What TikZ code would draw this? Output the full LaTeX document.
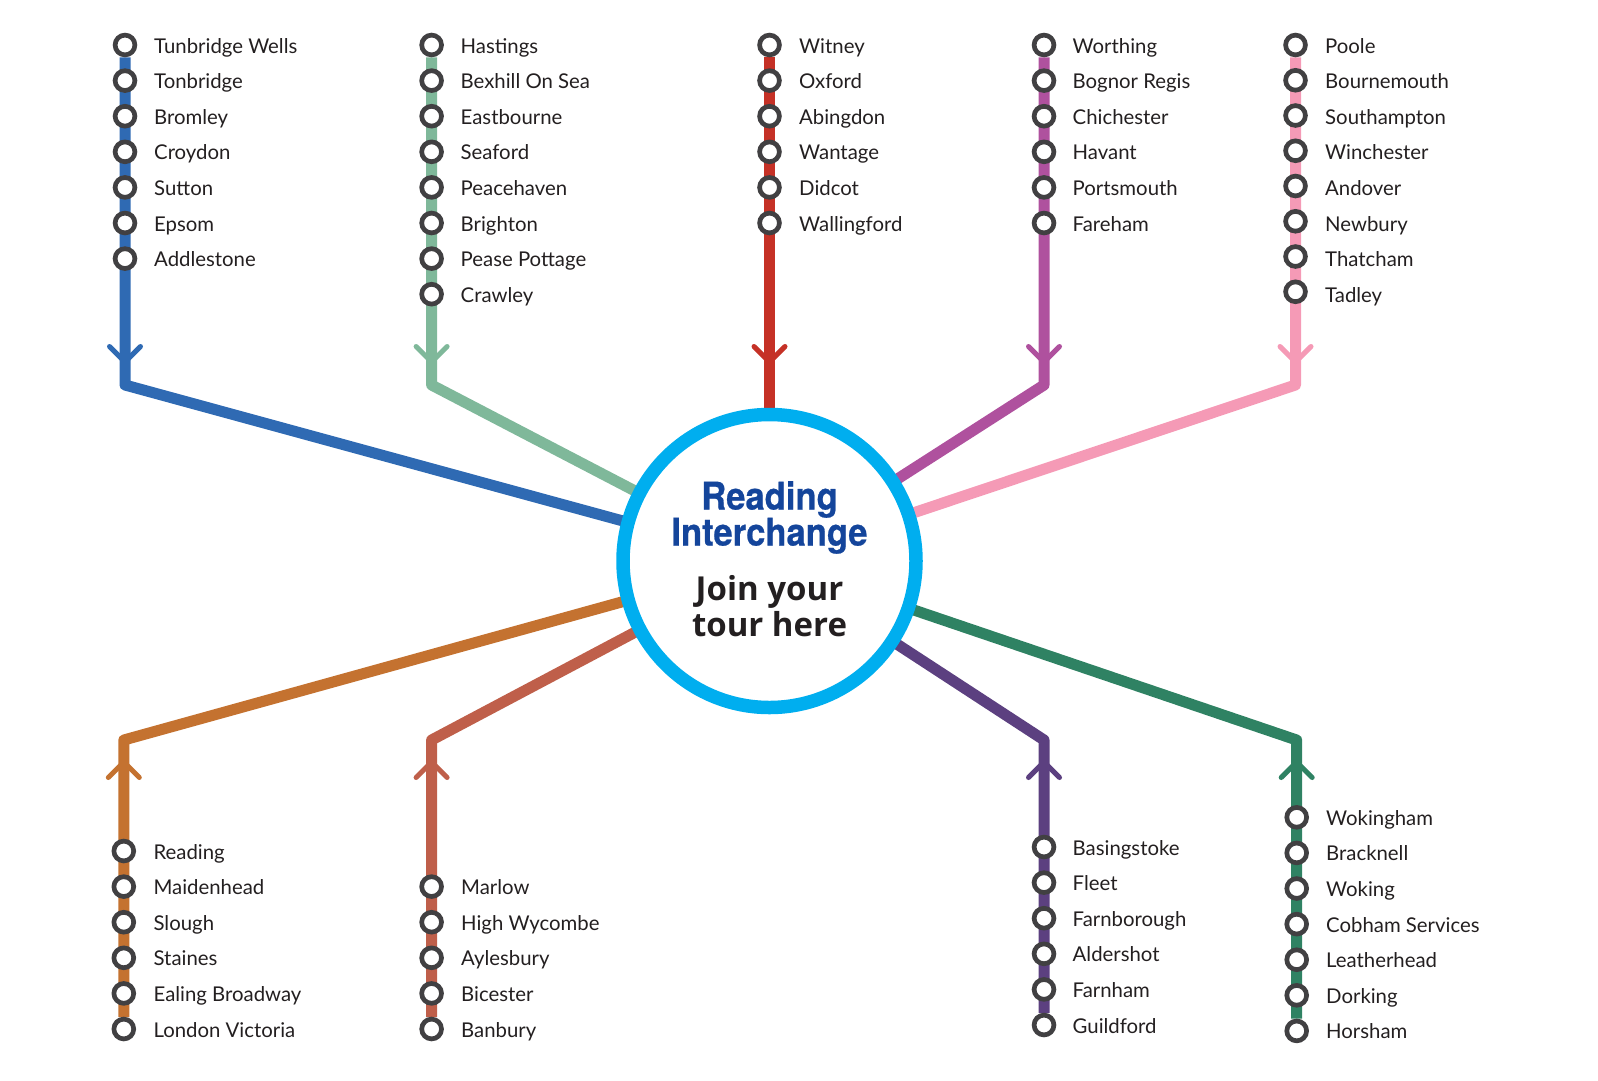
\documentclass[tikz,border=0pt]{standalone}
\usepackage{xcolor}
\usepackage{fontspec}
\usepackage{tikz}
\usetikzlibrary{backgrounds}
\setmainfont{Lato}
\newfontfamily\titlefont[FakeStretch=0.91,BoldFeatures={FakeBold=0.6}]{TeX Gyre Heros}
\newfontfamily\tagfont{Open Sans}

\begin{document}
\begin{tikzpicture}[
  x=1pt, y=-1pt,
  stop/.style={
    circle, draw=cRing, fill=white, line width=4.7pt,
    minimum size=19.8pt, inner sep=0pt},
  stopname/.style={
    anchor=base west, inner sep=0pt, text=cText,
    font=\fontsize{20.35}{24}\selectfont},
  route/.style={line width=11pt, draw=#1, line join=round},
  barb/.style={line width=5pt, draw=#1, line cap=round, line join=round},
  hubring/.style={
    circle, draw=cHub, fill=white, line width=13.5pt,
    minimum size=293pt, inner sep=0pt},
  hubtitle/.style={
    align=center, inner sep=0pt, text=cTitle,
    font=\titlefont\bfseries\fontsize{38}{36}\selectfont},
  hubtag/.style={
    align=center, inner sep=0pt, text=cText,
    font=\tagfont\bfseries\fontsize{33}{36}\selectfont}
]

% ---- palette ----
\definecolor{cRing}{HTML}{414042}
\definecolor{cText}{HTML}{231F20}
\definecolor{cHub}{HTML}{00AEEF}
\definecolor{cTitle}{HTML}{14459B}
\definecolor{cBlue}{HTML}{2F6AB3}
\definecolor{cSage}{HTML}{7FB89A}
\definecolor{cRed}{HTML}{C53126}
\definecolor{cPlum}{HTML}{AF519E}
\definecolor{cPink}{HTML}{F59AB6}
\definecolor{cOrange}{HTML}{C47230}
\definecolor{cBrick}{HTML}{BF5F4A}
\definecolor{cViolet}{HTML}{5C4080}
\definecolor{cGreen}{HTML}{2F8263}

\useasboundingbox (0,0) rectangle (1598,1080);

% ---- grid: station pitch 35.6, names sit 8 below the station centre ----
\def\rowT{45}
\def\pitch{35.6}
\def\drop{8}
\def\tipT{362}
\def\tipB{762}
\def\elbT{385}
\def\elbB{740}

% ================= hub =================
\node[hubring] (hub) at (769.5,561) {};
\node[hubtitle] (hubname) at (769.5,517.5) {Reading\\Interchange};
\node[hubtag] (hubjoin) at (769.5,606) {Join your\\tour here};

% ================= top lines =================
\foreach \stopname [count=\i from 0] in {Tunbridge Wells, Tonbridge, Bromley, Croydon, Sutton, Epsom, Addlestone} {
  \node[stop] (a\i) at (125,{\rowT+\pitch*\i}) {};
  \node[stopname] (na\i) at (154,{\rowT+\pitch*\i+\drop}) {\stopname};
}
\foreach \stopname [count=\i from 0] in {Hastings, Bexhill On Sea, Eastbourne, Seaford, Peacehaven, Brighton, Pease Pottage, Crawley} {
  \node[stop] (b\i) at (431.6,{\rowT+\pitch*\i}) {};
  \node[stopname] (nb\i) at (460.5,{\rowT+\pitch*\i+\drop}) {\stopname};
}
\foreach \stopname [count=\i from 0] in {Witney, Oxford, Abingdon, Wantage, Didcot, Wallingford} {
  \node[stop] (c\i) at (769.5,{\rowT+\pitch*\i}) {};
  \node[stopname] (nc\i) at (799,{\rowT+\pitch*\i+\drop}) {\stopname};
}
\foreach \stopname [count=\i from 0] in {Worthing, Bognor Regis, Chichester, Havant, Portsmouth, Fareham} {
  \node[stop] (d\i) at (1044,{\rowT+\pitch*\i}) {};
  \node[stopname] (nd\i) at (1072.5,{\rowT+\pitch*\i+\drop}) {\stopname};
}
% stations drift up a little here, the names do not
\foreach \stopname [count=\i from 0] in {Poole, Bournemouth, Southampton, Winchester, Andover, Newbury, Thatcham, Tadley} {
  \node[stop] (e\i) at (1295.5,{\rowT+35.25*\i}) {};
  \node[stopname] (ne\i) at (1325,{\rowT+\pitch*\i+\drop}) {\stopname};
}

% ================= bottom lines =================
\foreach \stopname [count=\i from 0] in {Reading, Maidenhead, Slough, Staines, Ealing Broadway, London Victoria} {
  \node[stop] (f\i) at (123.8,{851+\pitch*\i}) {};
  \node[stopname] (nf\i) at (153.4,{851+\pitch*\i+\drop}) {\stopname};
}
\foreach \stopname [count=\i from 0] in {Marlow, High Wycombe, Aylesbury, Bicester, Banbury} {
  \node[stop] (g\i) at (431.6,{886.6+\pitch*\i}) {};
  \node[stopname] (ng\i) at (461,{886.6+\pitch*\i+\drop}) {\stopname};
}
\foreach \stopname [count=\i from 0] in {Basingstoke, Fleet, Farnborough, Aldershot, Farnham, Guildford} {
  \node[stop] (h\i) at (1044,{847+\pitch*\i}) {};
  \node[stopname] (nh\i) at (1072.5,{847+\pitch*\i+\drop}) {\stopname};
}
\foreach \stopname [count=\i from 0] in {Wokingham, Bracknell, Woking, Cobham Services, Leatherhead, Dorking, Horsham} {
  \node[stop] (k\i) at (1296.7,{817.3+\pitch*\i}) {};
  \node[stopname] (nk\i) at (1326,{817.3+\pitch*\i+\drop}) {\stopname};
}

% ================= arrow points and elbows =================
\coordinate (ta) at (125,\tipT);    \coordinate (ea) at (125,\elbT);
\coordinate (tb) at (431.6,\tipT);  \coordinate (eb) at (431.6,\elbT);
\coordinate (tc) at (769.5,\tipT);
\coordinate (td) at (1044,\tipT);   \coordinate (ed) at (1044,\elbT);
\coordinate (te) at (1295.5,\tipT); \coordinate (ee) at (1295.5,\elbT);
\coordinate (tf) at (123.8,\tipB);  \coordinate (ef) at (123.8,\elbB);
\coordinate (tg) at (431.6,\tipB);  \coordinate (eg) at (431.6,\elbB);
\coordinate (th) at (1044,\tipB);   \coordinate (eh) at (1044,\elbB);
\coordinate (tk) at (1296.7,\tipB); \coordinate (ek) at (1296.7,\elbB);

% ================= routes, under the stations and the hub =================
\begin{scope}[on background layer]
\foreach \a/\b/\c/\s/\col in {a0/ta/ea/-1/cBlue, b0/tb/eb/-1/cSage, d0/td/ed/-1/cPlum, e0/te/ee/-1/cPink,
    f5/tf/ef/1/cOrange, g4/tg/eg/1/cBrick, h5/th/eh/1/cViolet, k6/tk/ek/1/cGreen} {
  \draw[route=\col] (\a) -- (\c) -- (hub.center);
  \draw[barb=\col] (\b) ++(-15.5,15.5*\s) -- (\b) -- ++(15.5,15.5*\s);
}
\draw[route=cRed] (c0) -- (hub.center);
\draw[barb=cRed] (tc) ++(-15.5,-15.5) -- (tc) -- ++(15.5,-15.5);
\end{scope}

\end{tikzpicture}
\end{document}
